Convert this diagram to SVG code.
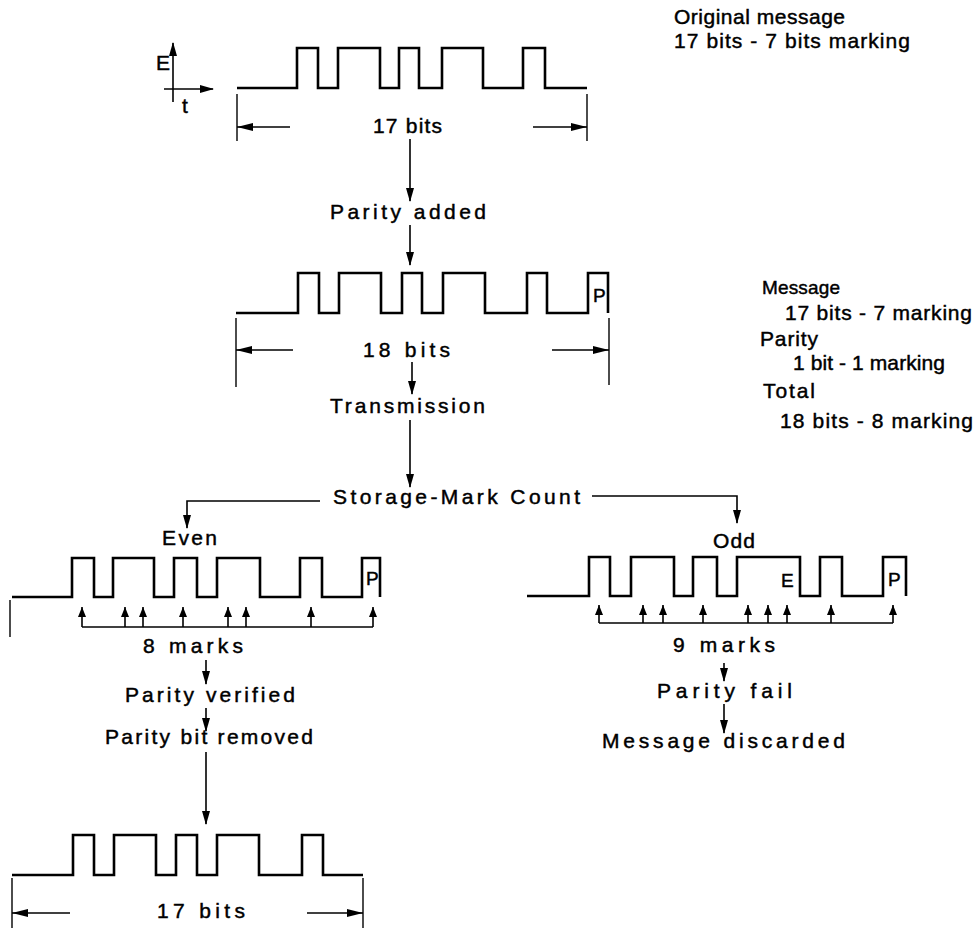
<svg xmlns="http://www.w3.org/2000/svg" width="975" height="928" viewBox="0 0 975 928">
<style>
text{font-family:"Liberation Sans",Arial,sans-serif;font-size:21px;fill:#000;stroke:#000;stroke-width:0.45}
.sm{font-size:19px}
.wave{fill:none;stroke:#000;stroke-width:2.6;stroke-linejoin:miter}
.ln{fill:none;stroke:#000;stroke-width:1.6}
.dim{fill:none;stroke:#000;stroke-width:1.4}
.arr{fill:none;stroke:#000;stroke-width:1.6;marker-end:url(#ah)}
.darr{fill:none;stroke:#000;stroke-width:1.4;marker-end:url(#dh)}
.mk{fill:none;stroke:#000;stroke-width:1.6;marker-end:url(#mh)}
</style>
<defs>
<marker id="ah" viewBox="0 0 14 8" refX="13" refY="4" markerWidth="14" markerHeight="8" orient="auto" markerUnits="userSpaceOnUse"><path d="M0,0 L14,4 L0,8 z" fill="#000"/></marker>
<marker id="dh" viewBox="0 0 16 8" refX="16" refY="4" markerWidth="16" markerHeight="8" orient="auto" markerUnits="userSpaceOnUse"><path d="M0,0 L16,4 L0,8 z" fill="#000"/></marker>
<marker id="mh" viewBox="0 0 10 8" refX="10" refY="4" markerWidth="10" markerHeight="8" orient="auto" markerUnits="userSpaceOnUse"><path d="M0,0 L10,4 L0,8 z" fill="#000"/></marker>
</defs>

<g id="notes">
<text x="674" y="24" textLength="171" lengthAdjust="spacing">Original message</text>
<text x="674" y="48" textLength="236" lengthAdjust="spacing">17 bits - 7 bits marking</text>
<text class="sm" x="762" y="294" textLength="78" lengthAdjust="spacing">Message</text>
<text x="785" y="320" textLength="187" lengthAdjust="spacing">17 bits - 7 marking</text>
<text x="760" y="346" textLength="58" lengthAdjust="spacing">Parity</text>
<text x="793" y="370" textLength="152" lengthAdjust="spacing">1 bit - 1 marking</text>
<text x="763" y="398" textLength="52" lengthAdjust="spacing">Total</text>
<text x="780" y="428" textLength="193" lengthAdjust="spacing">18 bits - 8 marking</text>
</g>

<g id="axes">
<line class="arr" x1="173" y1="102" x2="173" y2="43"/>
<line class="arr" x1="164" y1="89" x2="213" y2="89"/>
<text x="156" y="70">E</text>
<text x="182" y="113">t</text>
</g>

<g id="original">
<path class="wave" d="M237,88 H297 V48 H318 V88 H338 V48 H380 V88 H399 V48 H419 V88 H442 V48 H483 V88 H523 V48 H545 V88 H587"/>
<line class="dim" x1="237" y1="94" x2="237" y2="141"/>
<line class="dim" x1="587" y1="94" x2="587" y2="141"/>
<line class="darr" x1="290" y1="127" x2="237" y2="127"/>
<line class="darr" x1="533" y1="127" x2="587" y2="127"/>
<text x="373" y="133" textLength="69" lengthAdjust="spacing">17 bits</text>
</g>

<g id="parity-added">
<text x="330" y="219" textLength="156" lengthAdjust="spacing">Parity added</text>
</g>

<g id="with-parity">
<path class="wave" d="M236,313 H298 V273 H319 V313 H339 V273 H381 V313 H402 V273 H422 V313 H443 V273 H485 V313 H527 V273 H547 V313 H588 V273 H608 V313"/>
<text class="sm" x="593" y="302">P</text>
<line class="dim" x1="236" y1="318" x2="236" y2="387"/>
<line class="dim" x1="609" y1="318" x2="609" y2="385"/>
<line class="darr" x1="293" y1="350" x2="236" y2="350"/>
<line class="darr" x1="552" y1="350" x2="609" y2="350"/>
<text x="363" y="357" textLength="87" lengthAdjust="spacing">18 bits</text>
</g>

<g id="transmission">
<text x="330" y="413" textLength="155" lengthAdjust="spacing">Transmission</text>
</g>

<g id="storage">
<text x="333" y="504" textLength="247" lengthAdjust="spacing">Storage-Mark Count</text>
</g>

<g id="even">
<text x="162" y="545" textLength="55" lengthAdjust="spacing">Even</text>
<path class="wave" d="M12,597 H72 V558 H94 V597 H113 V558 H154 V597 H174 V558 H197 V597 H217 V558 H260 V597 H300 V558 H322 V597 H362 V558 H380 V597"/>
<text class="sm" x="366" y="585">P</text>
<line class="dim" x1="10" y1="600" x2="10" y2="637"/>
<line class="ln" x1="82" y1="627" x2="373" y2="627"/>
<line class="mk" x1="82" y1="627" x2="82" y2="607"/>
<line class="mk" x1="125" y1="627" x2="125" y2="607"/>
<line class="mk" x1="143" y1="627" x2="143" y2="607"/>
<line class="mk" x1="183" y1="627" x2="183" y2="607"/>
<line class="mk" x1="228" y1="627" x2="228" y2="607"/>
<line class="mk" x1="246" y1="627" x2="246" y2="607"/>
<line class="mk" x1="311" y1="627" x2="311" y2="607"/>
<line class="mk" x1="373" y1="627" x2="373" y2="607"/>
<text x="143" y="653" textLength="100" lengthAdjust="spacing">8 marks</text>
<text x="125" y="702" textLength="170" lengthAdjust="spacing">Parity verified</text>
<text x="105" y="744" textLength="208" lengthAdjust="spacing">Parity bit removed</text>
</g>

<g id="odd">
<text x="713" y="548" textLength="42" lengthAdjust="spacing">Odd</text>
<path class="wave" d="M527,596 H589 V557 H610 V596 H631 V557 H674 V596 H693 V557 H717 V596 H737 V557 H800 V596 H820 V557 H842 V596 H883 V557 H906 V596"/>
<text class="sm" x="781" y="587">E</text>
<text class="sm" x="888" y="586">P</text>
<line class="ln" x1="599" y1="623" x2="893" y2="623"/>
<line class="mk" x1="599" y1="623" x2="599" y2="605"/>
<line class="mk" x1="643" y1="623" x2="643" y2="605"/>
<line class="mk" x1="663" y1="623" x2="663" y2="605"/>
<line class="mk" x1="703" y1="623" x2="703" y2="605"/>
<line class="mk" x1="748" y1="623" x2="748" y2="605"/>
<line class="mk" x1="768" y1="623" x2="768" y2="605"/>
<line class="mk" x1="787" y1="623" x2="787" y2="605"/>
<line class="mk" x1="831" y1="623" x2="831" y2="605"/>
<line class="mk" x1="893" y1="623" x2="893" y2="605"/>
<text x="673" y="652" textLength="102" lengthAdjust="spacing">9 marks</text>
<text x="657" y="698" textLength="135" lengthAdjust="spacing">Parity fail</text>
<text x="602" y="748" textLength="243" lengthAdjust="spacing">Message discarded</text>
</g>

<g id="result">
<path class="wave" d="M12,875 H73 V835 H94 V875 H114 V835 H156 V875 H176 V835 H197 V875 H217 V835 H259 V875 H302 V835 H323 V875 H363"/>
<line class="dim" x1="12" y1="878" x2="12" y2="928"/>
<line class="dim" x1="363" y1="878" x2="363" y2="928"/>
<line class="darr" x1="70" y1="913" x2="12" y2="913"/>
<line class="darr" x1="307" y1="913" x2="363" y2="913"/>
<text x="157" y="918" textLength="88" lengthAdjust="spacing">17 bits</text>
</g>

<g id="connectors">
<line class="arr" x1="410" y1="139" x2="410" y2="201"/>
<line class="arr" x1="410" y1="225" x2="410" y2="265"/>
<line class="arr" x1="412" y1="362" x2="412" y2="394"/>
<line class="arr" x1="410" y1="420" x2="410" y2="487"/>
<polyline class="arr" points="320,501 187,501 187,528"/>
<polyline class="arr" points="592,496 737,496 737,523"/>
<line class="arr" x1="206" y1="660" x2="206" y2="684"/>
<line class="arr" x1="206" y1="708" x2="206" y2="731"/>
<line class="arr" x1="206" y1="752" x2="206" y2="824"/>
<line class="arr" x1="724" y1="663" x2="724" y2="681"/>
<line class="arr" x1="724" y1="704" x2="724" y2="733"/>
</g>
</svg>
